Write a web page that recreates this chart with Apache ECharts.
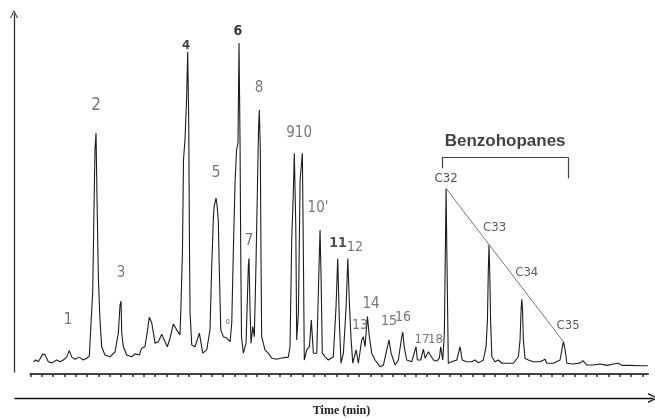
<!DOCTYPE html>
<html><head><meta charset="utf-8">
<script src="https://cdn.jsdelivr.net/npm/echarts@6/dist/echarts.min.js"></script>
<style>html,body{margin:0;padding:0;background:#fff}#c{width:655px;height:419px}</style>
</head><body><div id="c"></div><script>
// Retention time (min) and detector response (% of full scale)
const timeMin = [0.26,0.49,0.70,0.94,1.11,1.29,1.58,1.88,2.32,2.61,2.90,3.20,3.43,3.65,3.94,4.32,4.67,4.97,5.20,5.35,
5.50,5.61,5.70,5.79,5.88,6.00,6.14,6.29,6.58,7.03,7.47,7.76,7.91,8.00,8.06,8.20,8.50,8.94,9.23,9.61,
9.82,10.11,10.34,10.49,10.71,11.00,11.29,11.59,11.88,12.08,12.32,12.61,12.91,13.20,13.29,13.42,13.51,13.64,13.78,13.88,
13.97,14.04,14.09,14.24,14.53,14.91,15.21,15.56,15.85,16.00,16.14,16.21,16.38,16.47,16.58,16.67,16.80,17.03,17.33,17.62,
17.77,17.91,18.06,18.19,18.32,18.41,18.50,18.56,18.63,18.79,19.03,19.23,19.29,19.38,19.47,19.62,19.76,19.91,20.03,20.13,
20.20,20.29,20.35,20.41,20.70,21.00,21.30,21.74,22.03,22.76,22.91,23.06,23.20,23.29,23.42,23.50,23.65,23.80,24.00,24.09,
24.17,24.39,24.62,24.79,24.97,25.27,25.47,25.56,25.65,25.76,26.00,26.29,26.73,26.97,27.12,27.26,27.41,27.62,27.86,28.01,
28.15,28.30,28.45,28.74,28.94,29.24,29.38,29.53,29.74,29.91,30.12,30.42,30.86,31.15,31.45,31.65,31.83,32.18,32.47,32.77,
32.86,32.98,33.21,33.65,34.03,34.15,34.45,34.68,34.83,35.12,35.27,35.56,35.86,36.09,36.21,36.39,36.53,36.62,36.68,36.77,
36.88,37.18,37.63,37.92,38.10,38.51,38.95,39.24,39.53,39.97,40.21,40.33,40.41,40.47,40.55,40.61,40.72,41.00,41.30,41.60,
42.04,42.62,43.06,43.21,43.30,43.36,43.43,43.50,43.65,43.94,44.39,44.98,45.42,45.57,46.15,46.74,46.95,47.04,47.19,47.34,
47.92,48.51,48.75,49.10,49.68,50.27,50.87,51.45,51.89,52.19,52.92,53.80,54.48];
const intensity = [3.4,3.9,3.4,4.7,5.6,5.4,3.4,3.1,3.9,3.4,3.9,4.7,6.5,4.7,4.1,4.7,3.9,4.4,5.0,14.2,
22.9,45.7,62.4,67.1,48.5,26.7,15.0,7.6,5.3,4.8,6.2,11.4,19.2,20.3,11.4,7.6,5.3,4.8,5.6,5.3,
7.2,7.6,12.3,15.8,14.2,8.6,9.0,11.1,9.0,7.6,9.9,13.9,12.3,10.9,19.2,34.5,59.6,65.2,76.3,89.7,
70.8,34.5,17.0,8.1,7.6,11.4,5.8,6.7,12.3,29.9,42.9,46.6,49.0,47.1,42.9,29.0,12.3,10.4,10.0,9.0,
14.2,34.5,53.2,62.4,64.3,92.2,64.3,34.5,10.4,5.8,8.6,29.9,32.2,17.8,8.6,13.2,10.4,30.9,51.3,68.0,
73.5,62.4,31.8,10.4,6.7,5.8,4.4,4.1,4.4,4.7,7.6,37.3,50.3,61.5,41.0,9.5,17.0,54.0,61.5,32.7,
3.9,6.7,7.6,15.0,5.8,5.8,29.9,40.1,27.1,5.8,4.8,3.9,4.8,18.7,32.2,15.0,3.0,5.8,18.7,32.2,
19.7,9.5,3.0,6.7,3.0,9.5,10.4,7.6,16.0,10.4,5.8,3.9,2.0,2.5,6.7,9.5,5.8,2.5,3.9,10.4,
11.7,7.6,3.9,3.4,7.6,3.9,3.9,6.9,4.4,6.2,5.8,3.9,3.6,4.4,7.6,3.9,11.4,34.5,51.7,29.0,
3.0,3.4,3.9,7.6,3.9,3.4,3.4,3.9,3.1,3.9,7.6,15.0,29.0,35.9,26.2,15.0,4.8,3.4,3.9,3.0,
3.0,3.0,4.8,9.5,17.8,20.8,17.8,9.5,4.4,3.9,3.4,3.4,4.1,3.0,3.0,3.9,7.6,9.0,6.7,3.0,
2.8,3.1,3.7,2.5,2.5,2.8,2.4,2.8,3.0,2.4,2.4,2.3,2.3];

// Peak labels (text, anchor time, anchor height)
const peakLabelNames   = ['1','2','3','4','5','o','6','7','8','910',"10'",'11','12','13','14','15','16','17','18','C32','C33','C34','C35'];
const peakLabelTimes   = [3.32,5.79,8.00,13.73,16.38,17.41,18.32,19.29,20.18,23.71,25.38,27.15,28.65,29.09,30.06,31.65,32.89,34.56,35.75,36.68,40.96,43.80,47.45];
const peakLabelHeights = [15.0,74.9,28.1,91.6,56.0,14.6,95.5,37.0,79.7,67.1,46.2,36.5,35.4,13.6,19.5,14.8,15.9,9.5,9.5,54.3,40.7,28.3,13.4];

// Benzohopanes group annotation
const groupTitle = 'Benzohopanes';
const groupTitleAt = [41.89, 64.9];
const bracketTimes = [36.36, 47.42];
const bracketLevels = [57.3, 60.4, 54.5];   // left foot, top, right foot
const trendPeakTimes = [36.68, 47.04];       // C32 apex to C35 apex
const axisTitle = 'Time (min)';
const tickMinutes = [];
for (let m = 0; m <= 54; m++) tickMinutes.push(m);

const NARROW = "'Liberation Sans Narrow','DejaVu Sans Condensed','Liberation Sans',sans-serif";
const labelStyles = {
  '1':{fontSize:16}, '2':{fontSize:17}, '3':{fontSize:15},
  '4':{fontSize:13,fontWeight:'bold',color:'#111'}, '5':{fontSize:16},
  'o':{fontSize:8,color:'#555'}, '6':{fontSize:14,fontWeight:'bold',color:'#000'},
  '7':{fontSize:15}, '8':{fontSize:15}, '910':{fontSize:15}, "10'":{fontSize:15},
  '11':{fontSize:14,fontWeight:'bold',color:'#222'}, '12':{fontSize:14}, '13':{fontSize:14},
  '14':{fontSize:15}, '15':{fontSize:14}, '16':{fontSize:14}, '17':{fontSize:13}, '18':{fontSize:13},
  'C32':{fontSize:13,color:'#222'}, 'C33':{fontSize:13,color:'#333'}, 'C34':{fontSize:13,color:'#333'}, 'C35':{fontSize:13,color:'#333'}
};

const trace = timeMin.map((t, i) => [t, intensity[i]]);
const apex = t => [t, intensity[timeMin.indexOf(t)]];

const labelData = peakLabelNames.map((n, i) => ({
  value: [peakLabelTimes[i], peakLabelHeights[i]],
  label: Object.assign({show:true, position:'inside', formatter:n, color:'#555', fontFamily:NARROW, fontWeight:'normal'}, labelStyles[n] || {})
}));
labelData.push({
  value: groupTitleAt,
  label: {show:true, position:'inside', formatter:groupTitle, color:'#111', fontFamily:"'Liberation Sans',Arial,sans-serif", fontWeight:'bold', fontSize:17}
});

const chevron = 'path://M0,10 L5,0 L10,10 L8.6,10 L5,2.6 L1.4,10 Z';

const chart = echarts.init(document.getElementById('c'), null, {renderer:'canvas'});
chart.setOption({
  animation:false,
  backgroundColor:'#fff',
  grid:[
    {left:14, right:2, top:14, bottom:47, outerBoundsMode:'none'},
    {left:30.4, right:7, top:15, bottom:45, outerBoundsMode:'none'},
    {left:15, right:2, top:20, bottom:21, outerBoundsMode:'none'}
  ],
  xAxis:[
    {gridIndex:0, type:'value', min:0, max:1, show:false},
    {gridIndex:1, type:'value', min:0, max:54.5,
     axisLine:{show:true, onZero:false, lineStyle:{color:'#444', width:2}},
     axisTick:{show:true, customValues:tickMinutes, length:3, lineStyle:{color:'#333', width:1.5}},
     axisLabel:{show:false}, splitLine:{show:false}},
    {gridIndex:2, type:'value', min:0, max:1, position:'bottom',
     axisLine:{show:true, onZero:false, symbol:['none', chevron], symbolSize:[10,12], lineStyle:{color:'#111', width:1.3}},
     axisTick:{show:false}, axisLabel:{show:false}, splitLine:{show:false},
     name:axisTitle, nameLocation:'middle', nameGap:7,
     nameTextStyle:{fontFamily:"'Liberation Serif','DejaVu Serif',serif", fontWeight:'bold', fontSize:12, color:'#222', padding:[0,0,0,15]}}
  ],
  yAxis:[
    {gridIndex:0, type:'value', min:0, max:1,
     axisLine:{show:true, onZero:false, symbol:['none', chevron], symbolSize:[8,9], lineStyle:{color:'#333', width:1.3}},
     axisTick:{show:false}, axisLabel:{show:false}, splitLine:{show:false}},
    {gridIndex:1, type:'value', min:0, max:100, show:false},
    {gridIndex:2, type:'value', min:0, max:1, show:false}
  ],
  series:[
    {type:'line', xAxisIndex:1, yAxisIndex:1, data:trace, symbol:'none', silent:true,
     lineStyle:{color:'#1c1c1c', width:1.1},
     markLine:{silent:true, symbol:['none','none'], label:{show:false},
       data:[
         [{coord:apex(trendPeakTimes[0]), lineStyle:{color:'#777', width:1, type:'solid'}},
          {coord:apex(trendPeakTimes[1])}],
         [{coord:[bracketTimes[0], bracketLevels[0]], lineStyle:{color:'#444', width:1.2, type:'solid'}},
          {coord:[bracketTimes[0], bracketLevels[1]]}],
         [{coord:[bracketTimes[0], bracketLevels[1]], lineStyle:{color:'#444', width:1.2, type:'solid'}},
          {coord:[bracketTimes[1], bracketLevels[1]]}],
         [{coord:[bracketTimes[1], bracketLevels[1]], lineStyle:{color:'#444', width:1.2, type:'solid'}},
          {coord:[bracketTimes[1], bracketLevels[2]]}]
       ]}},
    {type:'scatter', xAxisIndex:1, yAxisIndex:1, data:labelData, symbolSize:1, silent:true,
     itemStyle:{color:'rgba(0,0,0,0)'}, z:5}
  ]
});
</script></body></html>
